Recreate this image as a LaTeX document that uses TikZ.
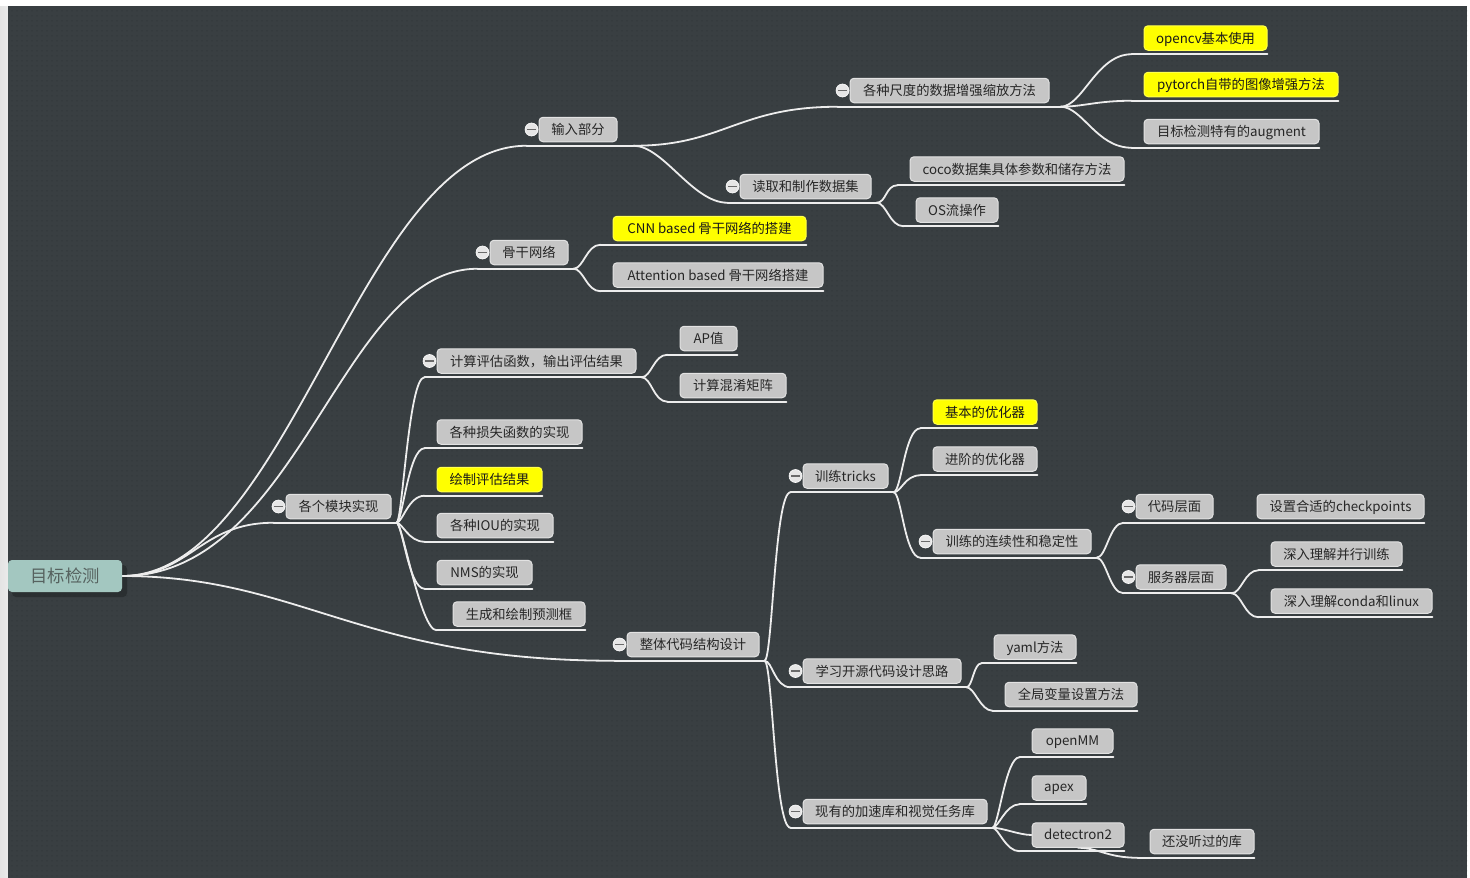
\documentclass[tikz,border=0pt]{standalone}
\usepackage{fontspec}
\setmainfont{Noto Sans CJK SC}
\usetikzlibrary{patterns.meta}

\definecolor{canvas}{HTML}{393F42}
\definecolor{dotc}{HTML}{31373A}
\definecolor{boxfill}{HTML}{C6C6C6}
\definecolor{boxrim}{HTML}{E2E2E2}
\definecolor{hilite}{HTML}{FFFF00}
\definecolor{rootfill}{HTML}{A3C7C0}
\definecolor{rootink}{HTML}{56625F}
\definecolor{rootshade}{HTML}{2A2F31}
\definecolor{ink}{HTML}{262626}
\definecolor{wirec}{HTML}{EDEDED}
\definecolor{foldfill}{HTML}{E6E6E6}
\definecolor{foldbar}{HTML}{6A6A6A}
\definecolor{stripc}{HTML}{E4E4E4}

% dotted canvas texture
\pgfdeclarepattern{
  name=mmdots,
  type=uncolored,
  bottom left={\pgfpoint{0pt}{0pt}},
  top right={\pgfpoint{5pt}{5pt}},
  tile size={\pgfpoint{5pt}{5pt}},
  code={\pgfpathcircle{\pgfpoint{2.5pt}{2.5pt}}{0.9pt}\pgfusepath{fill}}
}

\pgfdeclarelayer{bg}
\pgfdeclarelayer{wires}
\pgfsetlayers{bg,wires,main}

\tikzset{
  topic/.style={draw=boxrim, line width=1pt, fill=boxfill, rounded corners=4pt,
    text=ink, font=\fontsize{13.3}{15}\selectfont, inner xsep=2pt, inner ysep=0pt,
    minimum height=24.5pt, text depth=0.2ex},
  hot/.style={topic, fill=hilite, draw=hilite!70!white, text=black!90},
  roottopic/.style={fill=rootfill, rounded corners=4pt, text=rootink,
    font=\fontsize{17.3}{19}\selectfont, inner sep=0pt, minimum width=114pt, minimum height=32pt},
  wire/.style={draw=wirec, line width=1.8pt, line cap=round},
  fold/.style={circle, fill=foldfill, draw=white, line width=0.6pt, minimum size=13pt, inner sep=0pt,
    path picture={\draw[foldbar, line width=1.6pt]
      ([xshift=-4.5pt]path picture bounding box.center) -- ([xshift=4.5pt]path picture bounding box.center);}},
}

% start / end points of the underline below a topic
\newcommand\mmends[2]{%
  \coordinate (#1-in)  at ([xshift=-12pt,yshift=-3.5pt]#1.south west);
  \coordinate (#1-out) at ([xshift=#2pt,yshift=-3.5pt]#1.south east);
  \coordinate (#1-end) at ([yshift=-3.5pt]#1.south east);}
% collapse marker left of a topic
\newcommand\mmfold[1]{\node[fold] (#1-fold) at ([xshift=-7pt]#1.west) {};}
% curved branch between two named points
\newcommand\mmlink[4]{\draw[wire] (#1) .. controls +(#3,0) and +(-#4,0) .. (#2);}

\begin{document}
\begin{tikzpicture}[x=1pt,y=-1pt]
\useasboundingbox (0,0) rectangle (1470,878);

\begin{pgfonlayer}{bg}
  \fill[white] (0,0) rectangle (1470,878);
  \shade[left color=stripc, right color=white!92!black] (0,6) rectangle (8,878);
  \fill[canvas] (8,6) rectangle (1467,878);
  \fill[pattern=mmdots, pattern color=dotc] (8,6) rectangle (1467,878);
  \fill[rootshade, rounded corners=4pt] (12,565) rectangle (127,597);
\end{pgfonlayer}

% central topic
\node[roottopic] (R) at (65,576) {目标检测};

% first level
\node[topic, minimum width=78pt]  (A) at (578,129.5) {输入部分};
\node[topic, minimum width=78pt]  (B) at (529,252.5) {骨干网络};
\node[topic, minimum width=105pt] (C) at (338.5,506.5) {各个模块实现};
\node[topic, minimum width=132pt] (D) at (693,644.5) {整体代码结构设计};

% input branch
\node[topic, minimum width=199pt] (A1) at (949.5,90.5) {各种尺度的数据增强缩放方法};
\node[topic, minimum width=131pt] (A2) at (805.5,186.5) {读取和制作数据集};
\node[hot,   minimum width=123pt] (A11) at (1205.5,38) {opencv基本使用};
\node[hot,   minimum width=194pt] (A12) at (1241,84.5) {pytorch自带的图像增强方法};
\node[topic, minimum width=175pt] (A13) at (1231.5,131.5) {目标检测特有的augment};
\node[topic, minimum width=214pt] (A21) at (1017,169) {coco数据集具体参数和储存方法};
\node[topic, minimum width=82pt]  (A22) at (957,210) {OS流操作};

% backbone branch
\node[hot,   minimum width=193pt] (B1) at (709.5,228.5) {CNN based 骨干网络的搭建};
\node[topic, minimum width=210pt] (B2) at (718,275) {Attention based 骨干网络搭建};

% module branch
\node[topic, minimum width=199pt] (C1) at (536.5,361) {计算评估函数，输出评估结果};
\node[topic, minimum width=145pt] (C2) at (509.5,432) {各种损失函数的实现};
\node[hot,   minimum width=105pt] (C3) at (489.5,479.5) {绘制评估结果};
\node[topic, minimum width=116pt] (C4) at (495,525.5) {各种IOU的实现};
\node[topic, minimum width=95pt]  (C5) at (484.5,572.5) {NMS的实现};
\node[topic, minimum width=132pt] (C6) at (519,614) {生成和绘制预测框};
\node[topic, minimum width=57pt]  (C11) at (708.5,338.5) {AP值};
\node[topic, minimum width=106pt] (C12) at (733,385.5) {计算混淆矩阵};

% code structure branch
\node[topic, minimum width=85pt]  (D1) at (845.5,476) {训练tricks};
\node[topic, minimum width=158pt] (D2) at (882,671) {学习开源代码设计思路};
\node[topic, minimum width=184pt] (D3) at (895,811.5) {现有的加速库和视觉任务库};
\node[hot,   minimum width=104pt] (D11) at (985,412) {基本的优化器};
\node[topic, minimum width=104pt] (D12) at (985,459) {进阶的优化器};
\node[topic, minimum width=158pt] (D13) at (1012,541.5) {训练的连续性和稳定性};
\node[topic, minimum width=77pt]  (D131) at (1174.5,506.5) {代码层面};
\node[topic, minimum width=90pt]  (D132) at (1181,577) {服务器层面};
\node[topic, minimum width=167pt] (D1311) at (1340.5,506.5) {设置合适的checkpoints};
\node[topic, minimum width=131pt] (D1321) at (1336.5,554) {深入理解并行训练};
\node[topic, minimum width=161pt] (D1322) at (1351.5,601) {深入理解conda和linux};
\node[topic, minimum width=82pt]  (D21) at (1035,647) {yaml方法};
\node[topic, minimum width=132pt] (D22) at (1071,694.5) {全局变量设置方法};
\node[topic, minimum width=81pt]  (D31) at (1072.5,741) {openMM};
\node[topic, minimum width=54pt]  (D32) at (1059,788) {apex};
\node[topic, minimum width=92pt]  (D33) at (1078,835) {detectron2};
\node[topic, minimum width=104pt] (D331) at (1202,841.5) {还没听过的库};

% collapse markers
\foreach \n in {A,B,C,D,A1,A2,C1,D1,D2,D3,D13,D131,D132} {\mmfold{\n}}

% underline anchors
\mmends{A}{16}
\mmends{A1}{11}
\foreach \n in {B,C,D,A2,C1,D1,D2,D3,D13,D131,D132,
  A11,A12,A13,A21,A22,B1,B2,C2,C3,C4,C5,C6,C11,C12,
  D11,D12,D1311,D1321,D1322,D21,D22,D31,D32,D33,D331} {\mmends{\n}{5}}
\coordinate (C6-in) at ([xshift=-16pt,yshift=-3.5pt]C6.south west);

\begin{pgfonlayer}{wires}
  % underlines: parents run to their fork point, leaves end at the box edge
  \foreach \n in {A,B,C,D,A1,A2,C1,D1,D2,D3,D13,D131,D132} {\draw[wire] (\n-in) -- (\n-out);}
  \foreach \n in {A11,A12,A13,A21,A22,B1,B2,C2,C3,C4,C5,C6,C11,C12,
    D11,D12,D1311,D1321,D1322,D21,D22,D31,D32,D33,D331} {\draw[wire] (\n-in) -- (\n-end);}

  % from the central topic
  \mmlink{R.east}{A-in}{168}{167}
  \mmlink{R.east}{B-in}{178}{138}
  \mmlink{R.east}{C-in}{68}{74}
  \mmlink{R.east}{D-in}{178}{255}

  % input branch
  \mmlink{A-out}{A1-in}{90}{100}
  \mmlink{A-out}{A2-in}{30}{35}
  \foreach \n in {A11,A12,A13} {\mmlink{A1-out}{\n-in}{22}{35}}
  \mmlink{A2-out}{A21-in}{10}{12}
  \mmlink{A2-out}{A22-in}{10}{14}

  % backbone branch
  \foreach \n in {B1,B2} {\mmlink{B-out}{\n-in}{10}{14}}

  % module branch
  \foreach \n in {C1,C2,C3,C4,C5,C6} {\mmlink{C-out}{\n-in}{6}{16}}
  \foreach \n in {C11,C12} {\mmlink{C1-out}{\n-in}{10}{14}}

  % code structure branch
  \foreach \n in {D1,D2,D3} {\mmlink{D-out}{\n-in}{8}{16}}
  \foreach \n in {D11,D12,D13} {\mmlink{D1-out}{\n-in}{8}{16}}
  \foreach \n in {D131,D132} {\mmlink{D13-out}{\n-in}{10}{14}}
  \draw[wire] (D131-out) -- (D1311-in);
  \foreach \n in {D1321,D1322} {\mmlink{D132-out}{\n-in}{10}{14}}
  \mmlink{D2-out}{D21-in}{6}{8}
  \mmlink{D2-out}{D22-in}{8}{12}
  \foreach \n in {D31,D32,D33} {\mmlink{D3-out}{\n-in}{6}{14}}
  \mmlink{D3-out}{D33.west}{10}{12}
  \mmlink{D33.south}{D331-in}{20}{30}
\end{pgfonlayer}
\end{tikzpicture}
\end{document}
